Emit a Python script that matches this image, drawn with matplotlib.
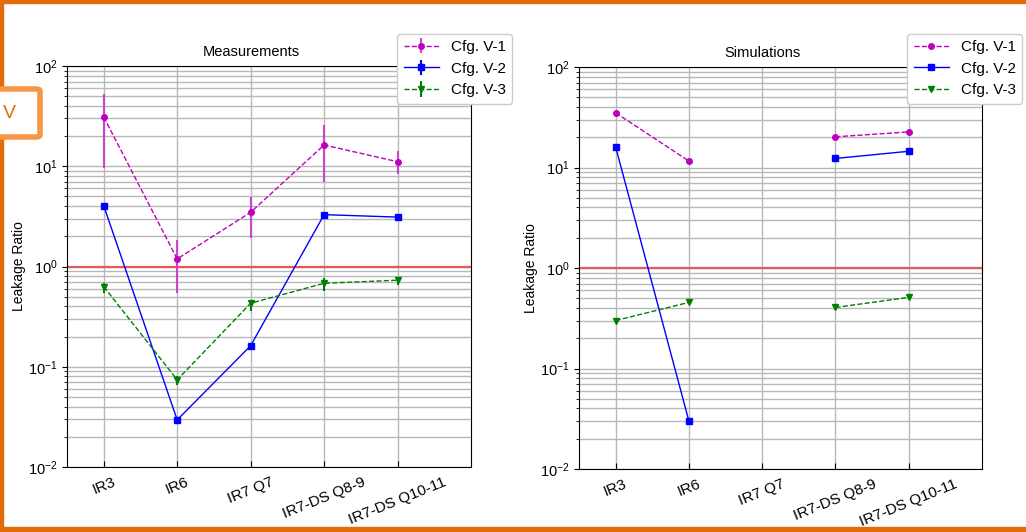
import numpy as np
import matplotlib
matplotlib.use("Agg")
import matplotlib.pyplot as plt
from matplotlib.patches import FancyBboxPatch, Rectangle

plt.rcParams['font.family'] = ['Liberation Sans', 'DejaVu Sans']
plt.rcParams['font.size'] = 10

# Locations along the beam line
locations = ["IR3", "IR6", "IR7 Q7", "IR7-DS Q8-9", "IR7-DS Q10-11"]
series_names = ["Cfg. V-1", "Cfg. V-2", "Cfg. V-3"]

# Measured leakage ratios with lower / upper error bounds
meas_v1 = [31.0, 1.19, 3.47, 16.3, 11.1]
meas_v1_lo = [9.5, 0.54, 1.93, 6.9, 8.3]
meas_v1_hi = [52.0, 1.83, 4.95, 25.7, 14.1]

meas_v2 = [4.03, 0.0295, 0.162, 3.29, 3.11]
meas_v2_lo = [3.85, 0.0285, 0.152, 3.15, 3.0]
meas_v2_hi = [4.2, 0.0305, 0.172, 3.45, 3.22]

meas_v3 = [0.63, 0.074, 0.43, 0.68, 0.73]
meas_v3_lo = [0.55, 0.066, 0.36, 0.57, 0.66]
meas_v3_hi = [0.68, 0.081, 0.46, 0.76, 0.78]

# Simulated leakage ratios (no simulation at IR7 Q7)
sim_v1 = [35.0, 11.6, np.nan, 20.2, 22.6]
sim_v2 = [16.0, 0.030, np.nan, 12.3, 14.5]
sim_v3 = [0.30, 0.455, np.nan, 0.405, 0.51]

reference_level = 1.0

colors = ['m', 'b', 'g']
ecolors = ['#cc44cc', 'b', 'g']
markers = ['o', 's', 'v']
styles = ['--', '-', '--']
msizes = [4, 4.5, 4.5]

W, H = 1026, 532
fig = plt.figure(figsize=(W / 100, H / 100), dpi=100)

ax1 = fig.add_axes([67 / W, 65 / H, 404 / W, 401 / H])
ax2 = fig.add_axes([579 / W, 63 / H, 403 / W, 402 / H])

x = np.arange(len(locations))


def style_axes(ax, title):
    ax.set_yscale('log')
    ax.set_ylim(1e-2, 1e2)
    ax.set_xlim(-0.5, 5.0)
    ax.set_xticks(x)
    ax.set_xticklabels(locations, rotation=22, ha='center', fontsize=11)
    ax.tick_params(axis='x', direction='in', length=4, pad=6)
    ax.tick_params(axis='y', which='both', labelsize=10.5)
    ax.grid(True, which='major', color='#b8b8b8', lw=1.0)
    ax.grid(True, which='minor', axis='y', color='#b8b8b8', lw=1.0)
    ax.set_axisbelow(True)
    ax.axhline(reference_level, color='#e35a5a', lw=1.6, zorder=1.5)
    ax.set_ylabel("Leakage Ratio", fontsize=10, labelpad=1.5)
    ax.set_title(title, fontsize=10.5, x=0.455, pad=7)


style_axes(ax1, "Measurements")
style_axes(ax2, "Simulations")

meas = [(meas_v1, meas_v1_lo, meas_v1_hi),
        (meas_v2, meas_v2_lo, meas_v2_hi),
        (meas_v3, meas_v3_lo, meas_v3_hi)]
for (vals, lo, hi), c, ec, m, ls, ms, name in zip(meas, colors, ecolors, markers,
                                                  styles, msizes, series_names):
    vals = np.array(vals)
    yerr = np.vstack([vals - np.array(lo), np.array(hi) - vals])
    ax1.errorbar(x, vals, yerr=yerr, color=c, marker=m, ls=ls, lw=1.0, ms=ms,
                 elinewidth=1.5, ecolor=ec, capsize=0, label=name, zorder=3)

for vals, c, m, ls, ms, name in zip([sim_v1, sim_v2, sim_v3], colors, markers,
                                    styles, msizes, series_names):
    ax2.plot(x, vals, color=c, marker=m, ls=ls, lw=1.0, ms=ms, label=name, zorder=3)

for ax, right in [(ax1, 512), (ax2, 1022)]:
    ax.legend(loc='upper right', bbox_to_anchor=(right / W, 1 - 34 / H),
              bbox_transform=fig.transFigure, fontsize=11, framealpha=1,
              borderaxespad=0, handlelength=2.3, labelspacing=0.5)

# Slide frame and section tag
frame_col = '#e36c0a'
fig.patches.append(Rectangle((0, 1 - 3 / H), 1, 3 / H, transform=fig.transFigure,
                             color=frame_col, zorder=0))
fig.patches.append(Rectangle((0, 0), 1, 5 / H, transform=fig.transFigure,
                             color=frame_col, zorder=0))
fig.patches.append(Rectangle((0, 0), 3 / W, 1, transform=fig.transFigure,
                             color=frame_col, zorder=0))
tag = FancyBboxPatch((-10 / W, 1 - 137 / H), 50 / W, 48 / H,
                     boxstyle="round,pad=0,rounding_size=0.004",
                     transform=fig.transFigure, facecolor='white',
                     edgecolor='#f79646', lw=4, zorder=5)
fig.patches.append(tag)
fig.text(9 / W, 1 - 114 / H, "V", color='#e36c0a', fontsize=14,
         va='center', ha='center', zorder=6)

fig.savefig("out.png", dpi=100)
